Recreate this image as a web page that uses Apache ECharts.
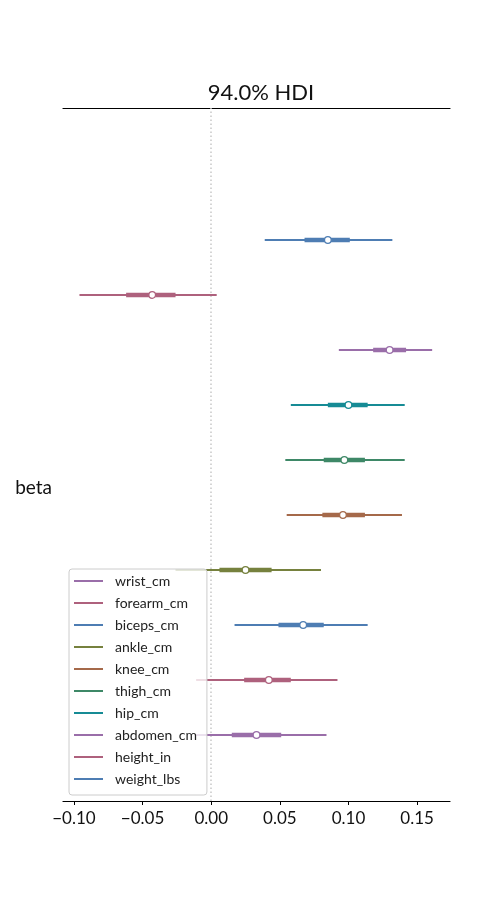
<!DOCTYPE html>
<html>
<head>
<meta charset="utf-8">
<script src="https://cdn.jsdelivr.net/npm/echarts@6/dist/echarts.min.js"></script>
<style>
  html, body { margin: 0; padding: 0; background: #fff; }
  #chart { width: 500px; height: 900px; }
</style>
</head>
<body>
<div id="chart"></div>
<script>
// variables, bottom row first (same order as the legend)
var names = ['wrist_cm', 'forearm_cm', 'biceps_cm', 'ankle_cm', 'knee_cm',
             'thigh_cm', 'hip_cm', 'abdomen_cm', 'height_in', 'weight_lbs'];
var hdiLow  = [-0.011, -0.011, 0.017, -0.026, 0.055, 0.054, 0.058, 0.093, -0.096, 0.039];
var hdiHigh = [ 0.084,  0.092, 0.114,  0.080, 0.139, 0.141, 0.141, 0.161,  0.004, 0.132];
var q1      = [ 0.015,  0.024, 0.049,  0.006, 0.081, 0.082, 0.085, 0.118, -0.062, 0.068];
var q3      = [ 0.051,  0.058, 0.082,  0.044, 0.112, 0.112, 0.114, 0.142, -0.026, 0.101];
var median  = [ 0.033,  0.042, 0.067,  0.025, 0.096, 0.097, 0.100, 0.130, -0.043, 0.085];
var colors  = ['#9a6ea9', '#ae617d', '#4e7db3', '#76813e', '#a5694a',
               '#3e8867', '#168b95', '#9a6ea9', '#ae617d', '#4e7db3'];
var xTicks = [-0.10, -0.05, 0.00, 0.05, 0.10, 0.15];
var groupLabel = 'beta';

var chart = echarts.init(document.getElementById('chart'));
var font = 'Lato';

function renderItem(params, api) {
  var y = api.value(0);
  var lo = api.coord([api.value(1), y]);
  var hi = api.coord([api.value(2), y]);
  var a = api.coord([api.value(3), y]);
  var b = api.coord([api.value(4), y]);
  var m = api.coord([api.value(5), y]);
  var col = api.visual('color');
  return {
    type: 'group',
    children: [
      { type: 'line', shape: { x1: lo[0], y1: lo[1], x2: hi[0], y2: hi[1] },
        style: { stroke: col, lineWidth: 1.8 } },
      { type: 'line', shape: { x1: a[0], y1: a[1], x2: b[0], y2: b[1] },
        style: { stroke: col, lineWidth: 4.5 } },
      { type: 'circle', shape: { cx: m[0], cy: m[1], r: 3.3 },
        style: { fill: '#fff', stroke: col, lineWidth: 1.2 } }
    ]
  };
}

var series = names.map(function (n, i) {
  var s = {
    name: n,
    type: 'custom',
    renderItem: renderItem,
    itemStyle: { color: colors[i] },
    encode: { x: [1, 2, 3, 4, 5], y: 0 },
    data: [[i, hdiLow[i], hdiHigh[i], q1[i], q3[i], median[i]]],
    z: 3
  };
  if (i === 0) {
    s.markLine = {
      silent: true,
      symbol: ['none', 'none'],
      label: { show: false },
      lineStyle: { color: '#c8c8c8', type: [1.5, 2.5], width: 1.5 },
      data: [{ xAxis: 0 }],
      z: 1
    };
  }
  return s;
});

var labelPos = (0 + names.length - 1) / 2;

var option = {
  animation: false,
  textStyle: { fontFamily: font },
  title: {
    text: '94.0% HDI',
    left: 256,
    textAlign: 'center',
    top: 77,
    textStyle: { fontFamily: font, fontSize: 22, fontWeight: 'normal', color: '#111' }
  },
  grid: { left: 63, right: 50, top: 108, bottom: 99, containLabel: false },
  legend: {
    data: names,
    orient: 'vertical',
    left: 69,
    top: 569,
    icon: 'rect',
    itemWidth: 29,
    itemHeight: 2,
    itemGap: 4,
    padding: [3, 10, 7, 5],
    backgroundColor: 'rgba(255,255,255,0.8)',
    borderColor: '#cccccc',
    borderWidth: 1,
    borderRadius: 3,
    textStyle: { fontFamily: font, fontSize: 14, color: '#222', lineHeight: 18, padding: [0, 0, 0, 7] }
  },
  xAxis: [{
    type: 'value',
    min: -0.108,
    max: 0.174,
    axisLine: { show: true, onZero: false, lineStyle: { color: '#000', width: 1.2 } },
    axisTick: { show: true, length: 4, customValues: xTicks, lineStyle: { color: '#000' } },
    axisLabel: {
      customValues: xTicks,
      margin: 9,
      fontFamily: font,
      fontSize: 17,
      color: '#111',
      formatter: function (v) {
        var s = Math.abs(v).toFixed(2);
        return v < -1e-9 ? '\u2212' + s : s;
      }
    },
    splitLine: { show: false }
  }, {
    type: 'value',
    position: 'top',
    min: -0.108,
    max: 0.174,
    axisLine: { show: true, onZero: false, lineStyle: { color: '#000', width: 1.2 } },
    axisTick: { show: false },
    axisLabel: { show: false },
    splitLine: { show: false }
  }],
  yAxis: {
    type: 'value',
    min: -1.2,
    max: 11.4,
    axisLine: { show: false, onZero: false },
    axisTick: { show: false },
    splitLine: { show: false },
    axisLabel: {
      customValues: [labelPos],
      margin: 11,
      fontFamily: font,
      fontSize: 19,
      color: '#111',
      formatter: function () { return groupLabel; }
    }
  },
  series: series
};

chart.setOption(option);
</script>
</body>
</html>
